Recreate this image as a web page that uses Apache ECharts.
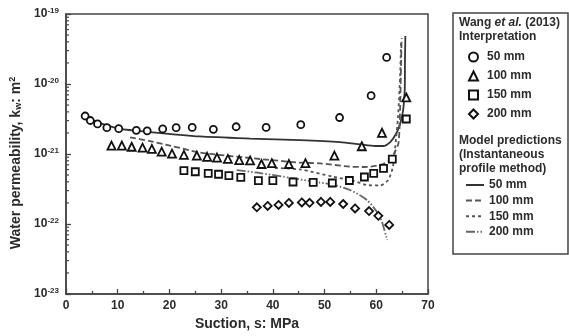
<!DOCTYPE html>
<html><head><meta charset="utf-8">
<script src="https://cdn.jsdelivr.net/npm/echarts@6/dist/echarts.min.js"></script>
<style>html,body{margin:0;padding:0;background:#fff}#c{width:569px;height:336px}</style>
</head><body><div id="c"></div>
<script>
// ---- axes ----
const xMin = 0, xMax = 70, xStep = 10;
const yMin = 1e-23, yMax = 1e-19;

// ---- observations (Wang et al. 2013) ----
const obs50x = [3.7, 4.7, 6.1, 7.9, 10.2, 13.6, 15.7, 18.7, 21.3, 24.4, 28.5, 32.9, 38.7, 45.4, 52.9, 59.0, 62.0];
const obs50k = [3.49e-21, 3.01e-21, 2.69e-21, 2.38e-21, 2.30e-21, 2.18e-21, 2.14e-21, 2.28e-21, 2.38e-21, 2.40e-21, 2.25e-21, 2.45e-21, 2.40e-21, 2.62e-21, 3.32e-21, 6.81e-21, 2.40e-20];

const obs100x = [8.8, 10.8, 12.7, 14.8, 16.6, 18.5, 20.5, 22.8, 25.3, 27.3, 29.2, 31.3, 33.5, 35.6, 37.8, 39.8, 43.1, 46.3, 51.9, 57.2, 61.1, 65.8];
const obs100k = [1.32e-21, 1.32e-21, 1.27e-21, 1.23e-21, 1.18e-21, 1.08e-21, 1.01e-21, 0.97e-21, 0.95e-21, 0.91e-21, 0.89e-21, 0.85e-21, 0.82e-21, 0.81e-21, 0.72e-21, 0.74e-21, 0.72e-21, 0.74e-21, 0.95e-21, 1.29e-21, 2.01e-21, 6.42e-21];

const obs150x = [22.8, 25.0, 27.5, 29.5, 31.5, 33.8, 37.2, 40.0, 43.9, 47.8, 51.5, 54.8, 57.7, 59.5, 61.4, 63.1, 65.8];
const obs150k = [5.77e-22, 5.58e-22, 5.30e-22, 5.14e-22, 4.90e-22, 4.65e-22, 4.16e-22, 4.16e-22, 3.98e-22, 3.92e-22, 3.85e-22, 4.18e-22, 4.69e-22, 5.30e-22, 6.25e-22, 8.43e-22, 3.16e-21];

const obs200x = [36.9, 39.0, 41.1, 43.1, 45.6, 47.1, 49.3, 51.1, 53.6, 55.9, 58.6, 60.4, 62.5];
const obs200k = [1.73e-22, 1.81e-22, 1.87e-22, 2.00e-22, 2.03e-22, 2.01e-22, 2.07e-22, 2.07e-22, 1.93e-22, 1.67e-22, 1.53e-22, 1.31e-22, 0.97e-22];

// ---- model predictions ----
const mod50x = [4.3, 6.6, 10.3, 16.2, 25.9, 35.6, 45.3, 53.0, 56.9, 59.8, 61.3, 62.7, 63.8, 64.6, 65.2, 65.5, 65.55, 65.62];
const mod50k = [3.27e-21, 2.77e-21, 2.31e-21, 2.06e-21, 1.78e-21, 1.66e-21, 1.58e-21, 1.48e-21, 1.37e-21, 1.30e-21, 1.30e-21, 1.48e-21, 1.93e-21, 2.69e-21, 4.26e-21, 8.2e-21, 2.2e-20, 4.85e-20];

const mod100x = [12.4, 16.2, 20.1, 25.9, 35.6, 45.3, 49.1, 54.9, 57.8, 60.7, 62.7, 63.6, 64.3, 64.6, 64.8, 64.9];
const mod100k = [1.73e-21, 1.53e-21, 1.32e-21, 1.05e-21, 8.77e-22, 7.52e-22, 7.36e-22, 6.59e-22, 6.52e-22, 6.97e-22, 8.2e-22, 1.07e-21, 1.44e-21, 4.26e-21, 2.2e-20, 4.54e-20];

const mod150x = [40.4, 45.3, 51.6, 55.5, 58.2, 60.7, 62.3, 63.2, 63.6, 64.2, 64.6, 64.8];
const mod150k = [6.31e-22, 6.01e-22, 4.74e-22, 4.16e-22, 3.60e-22, 3.55e-22, 4.26e-22, 6.52e-22, 1.14e-21, 3.38e-21, 1.26e-20, 4.26e-20];

const mod200x = [33.0, 37.1, 43.9, 49.1, 51.6, 54.9, 58.2, 60.7, 62.1];
const mod200k = [5.9e-22, 5.4e-22, 4.5e-22, 3.9e-22, 3.65e-22, 3.06e-22, 2.2e-22, 1.27e-22, 5.9e-23];

const depthLabels = ['50 mm', '100 mm', '150 mm', '200 mm'];

// ---- build ----
// ECharts rounds log-axis values to 10 decimals, so values are plotted in units of 1e-21 m^2
const UNIT_EXP = -21;
const toU = k => k / Math.pow(10, UNIT_EXP);
const FONT = "'Liberation Sans', Arial, Helvetica, sans-serif";
const TXT = '#2b2b2b';
const AX = '#444';
const zip = (xs, ys) => xs.map((x, i) => [x, toU(ys[i])]);

const minorY = [];
for (let e = -23; e < -19; e++) for (let m = 2; m <= 9; m++) minorY.push([xMin, toU(m * Math.pow(10, e))]);

const obsSets = [[obs50x, obs50k, 'circle', 7], [obs100x, obs100k, 'triangle', 8], [obs150x, obs150k, 'rect', 7], [obs200x, obs200k, 'diamond', 8]];
const modSets = [
  [mod50x, mod50k, 'solid', '#333'],
  [mod100x, mod100k, [6, 3], '#555'],
  [mod150x, mod150k, [3, 3], '#555'],
  [mod200x, mod200k, [9, 2, 1.5, 2, 1.5, 2], '#666']
];

const series = [];
modSets.forEach((s, i) => series.push({
  type: 'line', name: 'mod ' + depthLabels[i], data: zip(s[0], s[1]), symbol: 'none', smooth: 0.25,
  lineStyle: { color: s[3], width: 1.8, type: s[2] }, itemStyle: { color: s[3] }, z: 2
}));
obsSets.forEach((s, i) => series.push({
  type: 'scatter', name: 'obs ' + depthLabels[i], data: zip(s[0], s[1]), symbol: s[2], symbolSize: s[3],
  itemStyle: { color: '#fff', borderColor: '#111', borderWidth: 1.8, opacity: 1 }, z: 3
}));
series.push({
  type: 'custom', silent: true, data: minorY, clip: false, z: 4,
  renderItem: (p, api) => {
    const pt = api.coord([api.value(0), api.value(1)]);
    return { type: 'line', shape: { x1: pt[0], y1: pt[1], x2: pt[0] + 3, y2: pt[1] }, style: { stroke: AX, lineWidth: 1.2 } };
  }
});

const legTxt = { fontFamily: FONT, fontSize: 12, fontWeight: 'bold', color: TXT, lineHeight: 12 };
const stripName = n => n.replace(/^\S+ /, '');

const option = {
  animation: false,
  grid: { left: 66, right: 141, top: 14, bottom: 42, show: true, borderColor: AX, borderWidth: 1.5, backgroundColor: 'transparent' },
  xAxis: {
    type: 'value', min: xMin, max: xMax, interval: xStep,
    name: 'Suction, s: MPa', nameLocation: 'middle', nameGap: 23,
    nameTextStyle: { fontFamily: FONT, fontSize: 14, fontWeight: 'bold', color: TXT },
    axisLine: { lineStyle: { color: AX, width: 1.5 } },
    axisTick: { inside: true, length: 5, lineStyle: { color: AX, width: 1.3 } },
    minorTick: { show: true, splitNumber: 2, length: 3, lineStyle: { color: AX, width: 1.3 } },
    axisLabel: { fontFamily: FONT, fontSize: 12, fontWeight: 'bold', color: TXT, margin: 6 },
    splitLine: { show: false }
  },
  yAxis: {
    type: 'log', logBase: 10, min: toU(yMin), max: toU(yMax),
    name: 'Water permeability, k{sub|w}: m{sup|2}', nameLocation: 'middle', nameGap: 32, nameRotate: 90,
    nameTextStyle: { fontFamily: FONT, fontSize: 14, fontWeight: 'bold', color: TXT, padding: [0, 18, 0, 0],
      rich: { sub: { fontFamily: FONT, fontSize: 9, fontWeight: 'bold', color: TXT, padding: [6, 0, 0, 0] },
              sup: { fontFamily: FONT, fontSize: 9, fontWeight: 'bold', color: TXT, padding: [0, 0, 6, 0] } } },
    axisLine: { show: true, lineStyle: { color: AX, width: 1.5 } },
    axisTick: { show: true, inside: true, length: 5, lineStyle: { color: AX, width: 1.3 } },
    axisLabel: {
      margin: 7,
      formatter: v => '{b|10}{s|' + (Math.round(Math.log10(v)) + UNIT_EXP) + '}',
      rich: {
        b: { fontFamily: FONT, fontSize: 12, fontWeight: 'bold', color: TXT },
        s: { fontFamily: FONT, fontSize: 8, fontWeight: 'bold', color: TXT, padding: [0, 0, 7, 0] }
      }
    },
    splitLine: { show: false }
  },
  legend: [
    { orient: 'vertical', left: 463, top: 46, itemWidth: 9, itemHeight: 9, itemGap: 7,
      data: depthLabels.map(d => 'obs ' + d), formatter: stripName,
      textStyle: Object.assign({ padding: [0, 0, 0, 4] }, legTxt), selectedMode: false },
    { orient: 'vertical', left: 460, top: 174, itemWidth: 18, itemHeight: 10, itemGap: 3.6,
      itemStyle: { opacity: 0 },
      data: depthLabels.map(d => 'mod ' + d), formatter: stripName, textStyle: legTxt, selectedMode: false }
  ],
  graphic: [
    { type: 'rect', shape: { x: 453, y: 13, width: 115, height: 241 }, style: { fill: 'none', stroke: AX, lineWidth: 1.5 } },
    { type: 'text', x: 459, y: 23, style: { text: 'Wang {i|et al.} (2013)', verticalAlign: 'middle', fontFamily: FONT, fontSize: 12, fontWeight: 'bold', fill: TXT,
        rich: { i: { fontFamily: FONT, fontSize: 12, fontWeight: 'bold', fontStyle: 'italic', fill: TXT } } } },
    { type: 'text', x: 459, y: 37, style: { text: 'Interpretation', verticalAlign: 'middle', fontFamily: FONT, fontSize: 12, fontWeight: 'bold', fill: TXT } },
    { type: 'text', x: 459, y: 141, style: { text: 'Model predictions', verticalAlign: 'middle', fontFamily: FONT, fontSize: 12, fontWeight: 'bold', fill: TXT } },
    { type: 'text', x: 459, y: 155, style: { text: '(Instantaneous', verticalAlign: 'middle', fontFamily: FONT, fontSize: 12, fontWeight: 'bold', fill: TXT } },
    { type: 'text', x: 459, y: 169, style: { text: 'profile method)', verticalAlign: 'middle', fontFamily: FONT, fontSize: 12, fontWeight: 'bold', fill: TXT } }
  ],
  series: series
};

const chart = echarts.init(document.getElementById('c'), null, { renderer: 'canvas' });
chart.setOption(option);
</script>
</body></html>
